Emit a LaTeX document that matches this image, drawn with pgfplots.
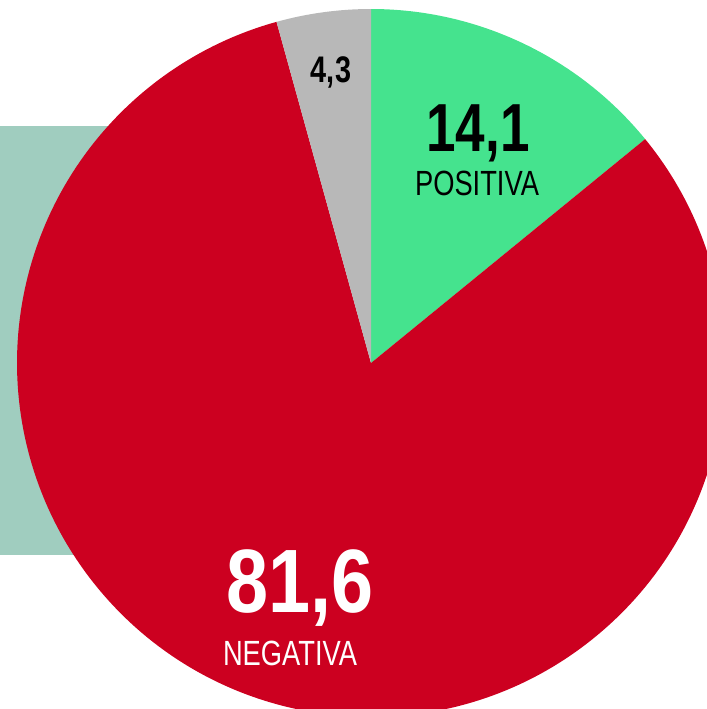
\documentclass[border=0pt]{standalone}
\usepackage{pgfplots}
\pgfplotsset{compat=1.18}
\usepackage{fontspec}
\setmainfont{Liberation Sans}
\newfontfamily\cnd[FakeStretch=0.78]{Liberation Sans}
\newfontfamily\cndb[FakeStretch=0.84]{Liberation Sans}
\definecolor{cPos}{HTML}{45E38E}
\definecolor{cNeg}{HTML}{CC0020}
\definecolor{cNeu}{HTML}{B8B8B8}
\definecolor{cBg}{HTML}{A0CDBF}
% values (percent)
\def\vPos{14.1}
\def\vNeg{81.6}
\def\vNeu{4.3}
\begin{document}
\begin{tikzpicture}
\pgfmathsetmacro{\aA}{90}
\pgfmathsetmacro{\aB}{\aA-3.6*\vPos}
\pgfmathsetmacro{\aC}{\aB-3.6*\vNeg}
\pgfmathsetmacro{\aD}{\aC-3.6*\vNeu}
\begin{axis}[x=0.5pt,y=0.5pt,xmin=0,xmax=707,ymin=0,ymax=709,
  hide axis, clip=true]
\fill[cBg] (axis cs:0,154) rectangle (axis cs:250,583);
\fill[cPos] (axis cs:371,346) -- +(\aA:177pt) arc[start angle=\aA,end angle=\aB,radius=177pt] -- cycle;
\fill[cNeg] (axis cs:371,346) -- +(\aB:177pt) arc[start angle=\aB,end angle=\aC,radius=177pt] -- cycle;
\fill[cNeu] (axis cs:371,346) -- +(\aC:177pt) arc[start angle=\aC,end angle=\aD,radius=177pt] -- cycle;
\node[anchor=base,inner sep=0pt,text=black] at (axis cs:331,626) {\cnd\bfseries\fontsize{18.5}{18.5}\selectfont 4,3};
\node[anchor=base,inner sep=0pt,text=black] at (axis cs:478,557) {\cnd\bfseries\fontsize{34}{34}\selectfont 14,1};
\node[anchor=base,inner sep=0pt,text=black] at (axis cs:477,514) {\cnd\fontsize{17.5}{17.5}\selectfont POSITIVA};
\node[anchor=base,inner sep=0pt,text=white] at (axis cs:300,97) {\cndb\bfseries\fontsize{45}{45}\selectfont 81,6};
\node[anchor=base,inner sep=0pt,text=white] at (axis cs:290,44) {\cnd\fontsize{17.5}{17.5}\selectfont NEGATIVA};
\end{axis}
\pgfresetboundingbox
\useasboundingbox (current axis.south west) rectangle (current axis.north east);
\end{tikzpicture}
\end{document}
